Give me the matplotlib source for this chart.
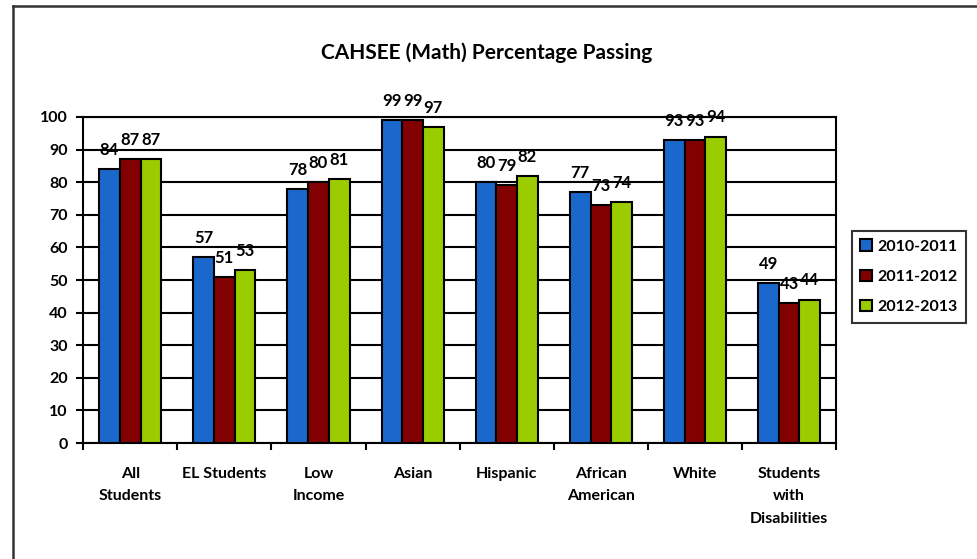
import numpy as np
import matplotlib.pyplot as plt
from matplotlib.lines import Line2D

categories = ["All\nStudents", "EL Students", "Low\nIncome", "Asian", "Hispanic",
              "African\nAmerican", "White", "Students\nwith\nDisabilities"]
years = ["2010-2011", "2011-2012", "2012-2013"]
pass_1011 = [84, 57, 78, 99, 80, 77, 93, 49]
pass_1112 = [87, 51, 80, 99, 79, 73, 93, 43]
pass_1213 = [87, 53, 81, 97, 82, 74, 94, 44]
yticks = list(range(0, 101, 10))

colors = ["#1a68cc", "#820000", "#9acc00"]
plt.rcParams['font.family'] = ['Lato', 'DejaVu Sans']

fig = plt.figure(figsize=(9.78, 5.59), dpi=100)
ax = fig.add_axes([0.085, 0.2075, 0.77, 0.5832])

x = np.arange(len(categories))
w = 0.22
series = [pass_1011, pass_1112, pass_1213]
for i, (vals, col, lab) in enumerate(zip(series, colors, years)):
    pos = x + (i - 1) * w
    bars = ax.bar(pos, vals, w, color=col, edgecolor="black", linewidth=1.5,
                  label=lab, zorder=3)
    for b, v in zip(bars, vals):
        ax.annotate(str(v), (b.get_x() + b.get_width() / 2, v),
                    xytext=(0, 8), textcoords="offset points",
                    ha="center", va="bottom", fontsize=12, fontweight="bold")

ax.set_ylim(0, 100)
ax.set_xlim(-0.5, len(categories) - 0.5)
ax.set_yticks(yticks)
ax.yaxis.grid(True, color="black", linewidth=1.5, zorder=0)
ax.set_axisbelow(True)

# ticks between groups, labels at group centres
ax.set_xticks(np.arange(-0.5, len(categories), 1.0))
ax.set_xticklabels([])
ax.set_xticks(x, minor=True)
ax.set_xticklabels(categories, minor=True, fontsize=11.5, fontweight="bold",
                   linespacing=1.8, va="top")
ax.tick_params(axis="x", which="minor", length=0, pad=17)
ax.tick_params(axis="x", which="major", direction="out", length=5, width=1.5)
ax.tick_params(axis="y", direction="out", length=5, width=1.5, pad=6,
               labelsize=11.5)
for t in ax.get_yticklabels():
    t.set_fontweight("bold")
for s in ax.spines.values():
    s.set_linewidth(1.5)
    s.set_color("black")

leg = ax.legend(loc="center left", bbox_to_anchor=(1.01, 0.51), frameon=True,
                fancybox=False, edgecolor="black", fontsize=11.5,
                handlelength=0.7, handleheight=0.7, handletextpad=0.35,
                labelspacing=1.0, borderpad=0.55)
leg.get_frame().set_linewidth(1.5)
for t in leg.get_texts():
    t.set_fontweight("bold")

fig.text(0.498, 0.905, "CAHSEE (Math) Percentage Passing", ha="center",
         va="center", fontsize=15, fontweight="bold")

# outer chart frame (left and top edges visible)
fig.add_artist(Line2D([0.0135, 0.0135], [0.0, 0.989], color="#333333",
                      linewidth=1.8, transform=fig.transFigure))
fig.add_artist(Line2D([0.0135, 1.0], [0.989, 0.989], color="#333333",
                      linewidth=1.8, transform=fig.transFigure))

fig.savefig("out.png", dpi=100)
